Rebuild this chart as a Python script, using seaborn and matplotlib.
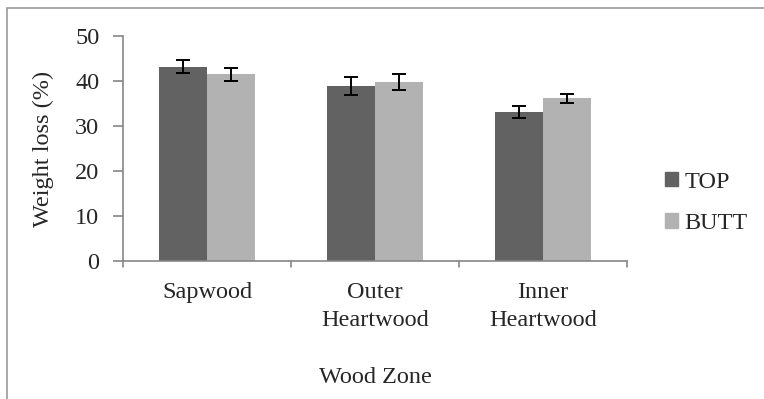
import matplotlib
matplotlib.use("Agg")
import matplotlib.pyplot as plt
import matplotlib.patches as mpatches
import numpy as np
import pandas as pd
import seaborn as sns

# Values
zones = ["Sapwood", "Outer\nHeartwood", "Inner\nHeartwood"]
positions = ["TOP", "BUTT"]
top_loss = [43.2, 39.0, 33.1]
butt_loss = [41.5, 39.8, 36.2]
top_err = [1.4, 2.0, 1.3]
butt_err = [1.5, 1.7, 1.0]
y_ticks = [0, 10, 20, 30, 40, 50]

df = pd.DataFrame(
    {
        "Wood Zone": zones * 2,
        "Position": ["TOP"] * 3 + ["BUTT"] * 3,
        "Weight loss (%)": top_loss + butt_loss,
        "err": top_err + butt_err,
    }
)

sns.set_theme(style="white")
plt.rcParams["font.family"] = "serif"
plt.rcParams["font.serif"] = ["Liberation Serif", "DejaVu Serif"]
FS = 17.5

fig = plt.figure(figsize=(7.64, 3.99), dpi=100)
ax = fig.add_axes([123 / 764, 1 - 261 / 399, (627 - 123) / 764, (261 - 36) / 399])

palette = {"TOP": "#626262", "BUTT": "#b2b2b2"}
sns.barplot(
    data=df,
    x="Wood Zone",
    y="Weight loss (%)",
    hue="Position",
    hue_order=positions,
    palette=palette,
    width=0.57,
    errorbar=None,
    saturation=1,
    linewidth=0,
    ax=ax,
)

# error bars on each bar
for cont, pos in zip(ax.containers, positions):
    sub = df[df["Position"] == pos]
    xs = [b.get_x() + b.get_width() / 2 for b in cont]
    ax.errorbar(
        xs, sub["Weight loss (%)"], yerr=sub["err"], fmt="none",
        ecolor="black", elinewidth=1.4, capsize=5, capthick=1.4,
    )

ax.set_ylim(0, 50)
ax.set_xlim(-0.5, 2.5)
ax.set_yticks(y_ticks)
ax.set_xticks([0, 1, 2])
ax.set_xticklabels(zones, fontsize=FS, linespacing=1.45, va="top")
ax.tick_params(axis="x", length=0, pad=15)
ax.tick_params(axis="y", labelsize=FS, length=7, width=1.2, color="#868686",
               direction="out", pad=10, left=True)
for b in [0.5, 1.5, 2.5, -0.5]:
    ax.plot([b, b], [0, -0.028], transform=ax.get_xaxis_transform(),
            color="#868686", lw=1.2, clip_on=False)

sns.despine(ax=ax)
for s in ["left", "bottom"]:
    ax.spines[s].set_color("#868686")
    ax.spines[s].set_linewidth(1.2)

ax.set_ylabel("Weight loss (%)", fontsize=FS, labelpad=15)
ax.set_xlabel("Wood Zone", fontsize=FS, labelpad=26)

handles = [mpatches.Patch(color=palette[p]) for p in positions]
ax.legend(handles, positions, loc="center left", bbox_to_anchor=(1.032, 0.258),
          frameon=False, fontsize=FS, handlelength=0.55, handleheight=0.55,
          handletextpad=0.25, labelspacing=0.85)

# outer chart frame (top and left edges visible)
frame = mpatches.Rectangle((7 / 764, -0.1), 1.2, 1.1 - 8 / 399,
                           transform=fig.transFigure, fill=False,
                           edgecolor="#9a9a9a", lw=1.2, clip_on=False)
fig.add_artist(frame)

fig.savefig("out.png", dpi=100)
